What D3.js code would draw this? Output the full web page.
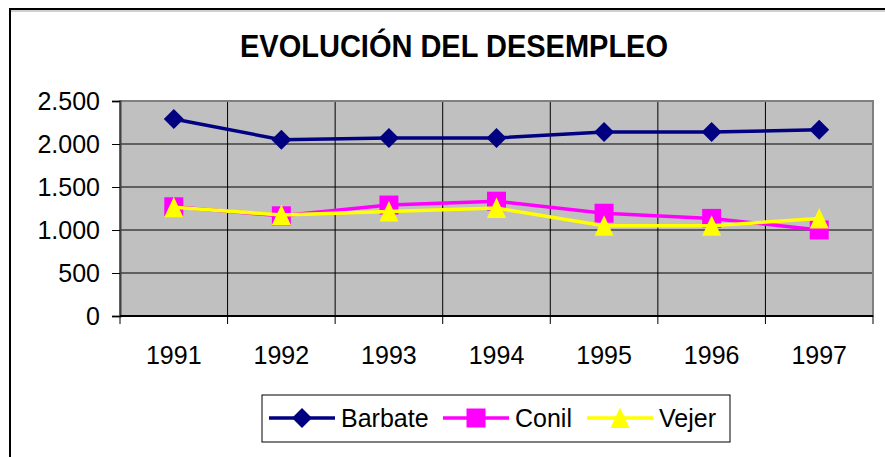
<!DOCTYPE html>
<html>
<head>
<meta charset="utf-8">
<script src="https://cdn.jsdelivr.net/npm/d3@7"></script>
<style>
  body { margin: 0; background: #fff; }
  svg text { font-family: "Liberation Sans", Arial, sans-serif; }
</style>
</head>
<body>
<div id="root"></div>
<script>
var years = ['1991', '1992', '1993', '1994', '1995', '1996', '1997'];
var barbate = [2290, 2050, 2070, 2070, 2140, 2140, 2165];
var conil = [1270, 1165, 1290, 1335, 1195, 1135, 1000];
var vejer = [1265, 1175, 1215, 1255, 1050, 1050, 1135];
var yTicks = [0, 500, 1000, 1500, 2000, 2500];

var series = [
  { name: 'Barbate', values: barbate, color: '#000080', shape: 'diamond' },
  { name: 'Conil', values: conil, color: '#FF00FF', shape: 'square' },
  { name: 'Vejer', values: vejer, color: '#FFFF00', shape: 'triangle' }
];

var W = 885, H = 457;
var plot = { left: 120, right: 873, top: 101, bottom: 316 };

var svg = d3.select('#root')
  .append('svg')
    .attr('width', W)
    .attr('height', H);

// outer chart frame (cut by the window on the right and bottom)
svg.append('line')
  .attr('x1', 10).attr('x2', W).attr('y1', 11).attr('y2', 11)
  .attr('stroke', '#a0a0a0').attr('stroke-width', 1);
svg.append('line')
  .attr('x1', 10).attr('x2', W).attr('y1', 9).attr('y2', 9)
  .attr('stroke', '#000').attr('stroke-width', 2);
svg.append('line')
  .attr('x1', 10).attr('x2', 10).attr('y1', 8).attr('y2', H)
  .attr('stroke', '#000').attr('stroke-width', 2);

svg.append('text')
  .attr('x', 454)
  .attr('y', 57)
  .attr('text-anchor', 'middle')
  .attr('font-size', 32)
  .attr('font-weight', 'bold')
  .attr('textLength', 428)
  .attr('lengthAdjust', 'spacingAndGlyphs')
  .text('EVOLUCIÓN DEL DESEMPLEO');

var x = d3.scaleBand()
  .domain(years)
  .range([plot.left, plot.right]);

var y = d3.scaleLinear()
  .domain([0, 2500])
  .range([plot.bottom, plot.top]);

// plot background
svg.append('rect')
  .attr('x', plot.left)
  .attr('y', plot.top)
  .attr('width', plot.right - plot.left)
  .attr('height', plot.bottom - plot.top)
  .attr('fill', '#C0C0C0');

// horizontal grid
svg.append('g')
  .selectAll('line')
  .data(yTicks.slice(1))
  .join('line')
    .attr('x1', plot.left).attr('x2', plot.right)
    .attr('y1', d => y(d)).attr('y2', d => y(d))
    .attr('stroke', '#000').attr('stroke-width', 1);

// vertical grid at category boundaries
svg.append('g')
  .selectAll('line')
  .data(years.slice(1))
  .join('line')
    .attr('x1', d => x(d)).attr('x2', d => x(d))
    .attr('y1', plot.top).attr('y2', plot.bottom)
    .attr('stroke', '#000').attr('stroke-width', 1);

// plot border
svg.append('rect')
  .attr('x', plot.left)
  .attr('y', plot.top)
  .attr('width', plot.right - plot.left)
  .attr('height', plot.bottom - plot.top)
  .attr('fill', 'none')
  .attr('stroke', '#808080')
  .attr('stroke-width', 2);

// y axis
var yAxis = svg.append('g')
  .attr('transform', 'translate(' + plot.left + ',0)')
  .call(d3.axisLeft(y)
    .tickValues(yTicks)
    .tickSize(8)
    .tickPadding(12)
    .tickFormat(d => d3.format(',')(d).replace(/,/g, '.')));
yAxis.select('.domain').attr('stroke', '#404040').attr('stroke-width', 2);
yAxis.selectAll('text')
  .attr('font-size', 25)
  .attr('fill', '#000')
  .attr('font-family', '"Liberation Sans", Arial, sans-serif');

// x axis: ticks at category boundaries
var xAxis = svg.append('g')
  .attr('transform', 'translate(0,' + plot.bottom + ')');
xAxis.append('line')
  .attr('x1', plot.left).attr('x2', plot.right)
  .attr('stroke', '#000').attr('stroke-width', 2);
xAxis.selectAll('.tk')
  .data(years.concat(['end']))
  .join('line')
    .attr('class', 'tk')
    .attr('x1', d => d === 'end' ? plot.right : x(d))
    .attr('x2', d => d === 'end' ? plot.right : x(d))
    .attr('y1', 0).attr('y2', 8)
    .attr('stroke', '#000');
xAxis.selectAll('text')
  .data(years)
  .join('text')
    .attr('x', d => x(d) + x.bandwidth() / 2)
    .attr('y', 48)
    .attr('text-anchor', 'middle')
    .attr('font-size', 25)
    .text(d => d);

var cx = (d, i) => x(years[i]) + x.bandwidth() / 2;

var symbolPath = function (shape) {
  if (shape === 'diamond') return 'M0,-10L10,0L0,10L-10,0Z';
  if (shape === 'square') return 'M-9.5,-9.5H9.5V9.5H-9.5Z';
  return 'M0,-10.5L9.5,10L-9.5,10Z';
};

var line = d3.line()
  .x(cx)
  .y(d => y(d));

series.forEach(s => {
  var g = svg.append('g');
  g.append('path')
    .datum(s.values)
    .attr('d', line)
    .attr('fill', 'none')
    .attr('stroke', s.color)
    .attr('stroke-width', 3.5);
  g.selectAll('path.m')
    .data(s.values)
    .join('path')
      .attr('class', 'm')
      .attr('transform', (d, i) => 'translate(' + cx(d, i) + ',' + y(d) + ')')
      .attr('d', symbolPath(s.shape))
      .attr('fill', s.color);
});

// legend
var legend = svg.append('g');
legend.append('rect')
  .attr('x', 262).attr('y', 395)
  .attr('width', 468).attr('height', 47)
  .attr('fill', '#fff')
  .attr('stroke', '#000')
  .attr('stroke-width', 1);

var legendX = [269, 443, 587];
series.forEach((s, i) => {
  var lx = legendX[i];
  var ly = 418;
  legend.append('line')
    .attr('x1', lx).attr('x2', lx + 66)
    .attr('y1', ly).attr('y2', ly)
    .attr('stroke', s.color).attr('stroke-width', 3.5);
  legend.append('path')
    .attr('transform', 'translate(' + (lx + 33) + ',' + ly + ')')
    .attr('d', symbolPath(s.shape))
    .attr('fill', s.color);
  legend.append('text')
    .attr('x', lx + 72)
    .attr('y', ly + 9)
    .attr('font-size', 25)
    .text(s.name);
});
</script>
</body>
</html>
